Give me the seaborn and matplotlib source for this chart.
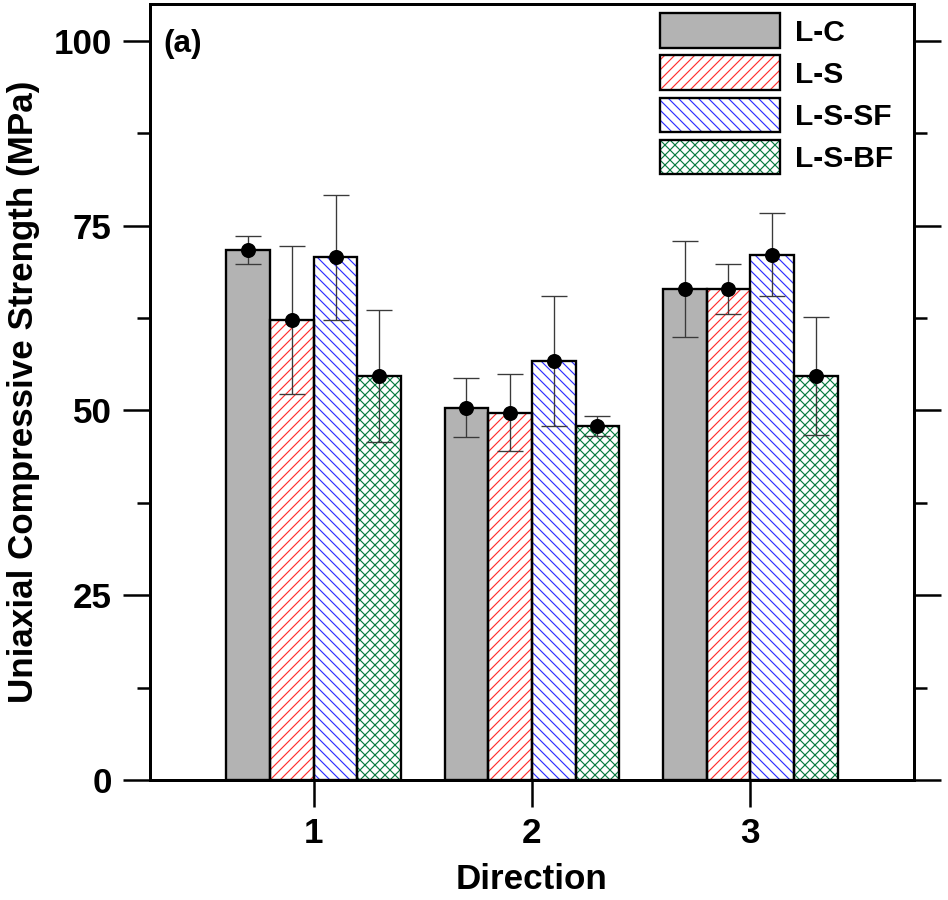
import numpy as np
import pandas as pd
import seaborn as sns
import matplotlib.pyplot as plt
from matplotlib.patches import Patch
from matplotlib.ticker import MultipleLocator

# values
directions = ['1', '2', '3']
mixes = ['L-C', 'L-S', 'L-S-SF', 'L-S-BF']
mean_lc = [71.7, 50.4, 66.4]
mean_ls = [62.2, 49.7, 66.4]
mean_ssf = [70.7, 56.7, 71.1]
mean_sbf = [54.7, 47.9, 54.7]
sd_lc = [1.9, 4.0, 6.5]
sd_ls = [10.0, 5.2, 3.4]
sd_ssf = [8.5, 8.8, 5.6]
sd_sbf = [8.9, 1.3, 8.0]

means = dict(zip(mixes, [mean_lc, mean_ls, mean_ssf, mean_sbf]))
sds = dict(zip(mixes, [sd_lc, sd_ls, sd_ssf, sd_sbf]))

face_colors = ['#b3b3b3', 'white', 'white', 'white']
hatch_colors = ['#b3b3b3', '#ff3030', '#3030ff', '#0a7a40']
hatches = ['', '////', '\\\\\\\\', 'xxxx']


def main():
    sns.set_style('ticks')
    plt.rcParams['font.family'] = ['Liberation Sans', 'DejaVu Sans']
    plt.rcParams['font.weight'] = 'bold'
    plt.rcParams['hatch.linewidth'] = 0.7
    for k in ['text.color', 'axes.labelcolor', 'xtick.color', 'ytick.color',
              'axes.edgecolor']:
        plt.rcParams[k] = 'black'

    rows = []
    for m in mixes:
        for d, v in zip(directions, means[m]):
            rows.append({'direction': d, 'mix': m, 'strength': v})
    df = pd.DataFrame(rows)

    fig = plt.figure(figsize=(7.9, 7.5), dpi=120)
    ax = fig.add_axes([0.1582, 0.1333, 0.8059, 0.8623])

    # hatched fill layer
    sns.barplot(data=df, x='direction', y='strength', hue='mix',
                order=directions, hue_order=mixes, palette=face_colors,
                saturation=1, errorbar=None, linewidth=0, legend=False,
                width=0.8, ax=ax)
    for cont, h, hc in zip(ax.containers, hatches, hatch_colors):
        for p in cont:
            p.set_hatch(h)
            p.set_edgecolor(hc)
            p.set_linewidth(0)

    # black outline layer
    sns.barplot(data=df, x='direction', y='strength', hue='mix',
                order=directions, hue_order=mixes, palette=['k'] * 4,
                saturation=1, errorbar=None, fill=False, linewidth=1.4,
                legend=False, width=0.8, ax=ax)

    # error bars + mean markers
    for cont, m in zip(ax.containers[:4], mixes):
        xs = [p.get_x() + p.get_width() / 2 for p in cont]
        ax.errorbar(xs, means[m], yerr=sds[m], fmt='o', color='k', ms=8,
                    ecolor='#3a3a3a', elinewidth=0.8, capsize=7.8,
                    capthick=0.8, zorder=5)

    ax.set_xlim(-0.75, 2.75)
    ax.set_ylim(0, 105)
    ax.yaxis.set_major_locator(MultipleLocator(25))
    ax.yaxis.set_minor_locator(MultipleLocator(12.5))
    ax.tick_params(axis='y', which='both', direction='out', left=True,
                   right=True, width=1.5, labelsize=21, pad=7)
    ax.tick_params(axis='y', which='major', length=16)
    ax.tick_params(axis='y', which='minor', length=8)
    ax.tick_params(axis='x', which='major', direction='out', length=16,
                   width=1.5, labelsize=21, pad=6)
    for lab in ax.get_xticklabels() + ax.get_yticklabels():
        lab.set_fontweight('bold')
    for s in ax.spines.values():
        s.set_linewidth(1.8)
        s.set_visible(True)

    ax.set_xlabel('Direction', fontsize=21, fontweight='bold', labelpad=8)
    ax.set_ylabel('Uniaxial Compressive Strength (MPa)', fontsize=21,
                  fontweight='bold', labelpad=8)

    ax.text(0.017, 0.968, '(a)', transform=ax.transAxes, fontsize=19,
            fontweight='bold', va='top', ha='left')

    handles = []
    for fc, hc, h in zip(face_colors, hatch_colors, hatches):
        fill = Patch(facecolor=fc, edgecolor=hc, hatch=h, linewidth=0)
        edge = Patch(facecolor='none', edgecolor='k', linewidth=1.4)
        handles.append((fill, edge))
    ax.legend(handles, mixes, loc='upper left', bbox_to_anchor=(0.667, 0.988),
              frameon=False, handlelength=4.0, handleheight=1.4,
              labelspacing=0.25, handletextpad=0.5, borderpad=0,
              borderaxespad=0, prop={'weight': 'bold', 'size': 18})

    fig.savefig('out.png', dpi=120)


if __name__ == '__main__':
    main()
